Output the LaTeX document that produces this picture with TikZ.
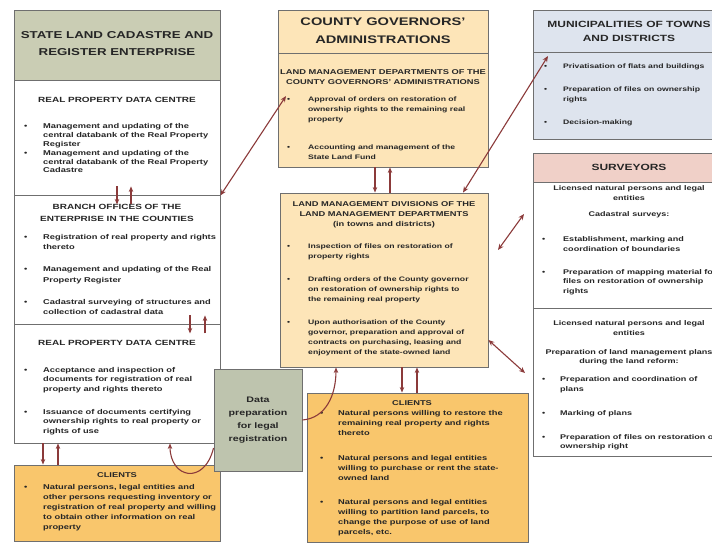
\documentclass[tikz,border=0pt]{standalone}
\usepackage{fontspec}
\setmainfont{Liberation Sans}[FakeStretch=1.33]
\usetikzlibrary{fit,arrows.meta}
\definecolor{bordc}{HTML}{6F6F6F}
\definecolor{arrc}{HTML}{8B3A3A}
\definecolor{tgreen}{HTML}{CACDB4}
\definecolor{dpgreen}{HTML}{BEC4AE}
\definecolor{peach}{HTML}{FDE5B8}
\definecolor{orng}{HTML}{F9C66C}
\definecolor{mblue}{HTML}{DEE4EE}
\definecolor{spink}{HTML}{F0D0C8}
\definecolor{txtc}{HTML}{262626}
\newcommand\bul{\textbullet}
\newcommand\fs[2]{\fontsize{#1}{#2}\selectfont\bfseries}
\tikzset{
  box/.style={draw=bordc, line width=0.9pt, inner sep=0pt},
  txt/.style={inner sep=0pt, text=txtc, align=center},
  lst/.style={inner sep=0pt, text=txtc, anchor=north west},
  arr/.style={draw=arrc, line width=1.1pt, -{Stealth[length=5.5pt,width=4.5pt]}},
  darr/.style={draw=arrc, line width=1.1pt, {Stealth[length=6pt,width=5pt]}-{Stealth[length=6pt,width=5pt]}},
}
\begin{document}
\begin{tikzpicture}[x=1pt,y=-1pt]
\useasboundingbox (0,0) rectangle (712,544);
% ---------- left column ----------
\node[box, fill=tgreen, fit={(14,10) (220,80)}] (lt) {};
\node[box, fill=white, fit={(14,80) (220,195)}] (l1) {};
\node[box, fill=white, fit={(14,195) (220,324)}] (l2) {};
\node[box, fill=white, fit={(14,324) (220,443)}] (l3) {};
\node[box, fill=orng, fit={(14,465) (220,541)}] (lc) {};
\node[box, fill=dpgreen, fit={(214,369) (302,471)}] (dp) {};
% ---------- middle column ----------
\node[box, fill=peach, fit={(278,10) (488,53)}] (mt) {};
\node[box, fill=peach, fit={(278,53) (488,167)}] (ms) {};
\node[box, fill=peach, fit={(280,193) (488,367)}] (md) {};
\node[box, fill=orng, fit={(307,393) (528,542)}] (mc) {};
% ---------- right column ----------
\node[box, fill=mblue, fit={(533,10) (725,52)}] (rt) {};
\node[box, fill=mblue, fit={(533,52) (725,139)}] (rb) {};
\node[box, fill=spink, fit={(533,153) (725,182)}] (st) {};
\node[box, fill=white, fit={(533,182) (725,308)}] (s1) {};
\node[box, fill=white, fit={(533,308) (725,456)}] (s2) {};

% ---------- texts: left ----------
\node[txt, font=\fs{10}{17}] (ltt) at (117,43.5) {STATE LAND CADASTRE AND\\REGISTER ENTERPRISE};
\node[txt, font=\fs{7.5}{9}] (l1h) at (117,100) {REAL PROPERTY DATA CENTRE};
\node[lst, font=\fs{7}{8.8}] (l1l) at (24,122.6) {\begin{tabular}{@{}p{19pt}@{}l@{}}
\bul & Management and updating of the\\
 & central databank of the Real Property\\
 & Register\\
\bul & Management and updating of the\\
 & central databank of the Real Property\\
 & Cadastre
\end{tabular}};
\node[txt, font=\fs{7.5}{12}] (l2h) at (117,213) {BRANCH OFFICES OF THE\\ENTERPRISE IN THE COUNTIES};
\node[lst, font=\fs{7}{10.5}] (l2l) at (24,231.5) {\begin{tabular}{@{}p{19pt}@{}l@{}}
\bul & Registration of real property and rights\\
 & thereto\\[11.5pt]
\bul & Management and updating of the Real\\
 & Property Register\\[11.5pt]
\bul & Cadastral surveying of structures and\\
 & collection of cadastral data
\end{tabular}};
\node[txt, font=\fs{7.5}{9}] (l3h) at (117,343) {REAL PROPERTY DATA CENTRE};
\node[lst, font=\fs{7}{9.5}] (l3l) at (24,365.2) {\begin{tabular}{@{}p{19pt}@{}l@{}}
\bul & Acceptance and inspection of\\
 & documents for registration of real\\
 & property and rights thereto\\[13.5pt]
\bul & Issuance of documents certifying\\
 & ownership rights to real property or\\
 & rights of use
\end{tabular}};
\node[txt, font=\fs{7}{9}] (lch) at (117,475) {CLIENTS};
\node[lst, font=\fs{7}{9.8}] (lcl) at (24,482.9) {\begin{tabular}{@{}p{19pt}@{}l@{}}
\bul & Natural persons, legal entities and\\
 & other persons requesting inventory or\\
 & registration of real property and willing\\
 & to obtain other information on real\\
 & property
\end{tabular}};
\node[txt, font=\fs{8}{13}] (dpt) at (258,420) {Data\\preparation\\for legal\\registration};

% ---------- texts: middle ----------
\node[txt, font=\fs{11}{18}] (mtt) at (383,31) {COUNTY GOVERNORS'\\ADMINISTRATIONS};
\node[txt, font=\fs{7}{10}] (msh) at (383,77) {LAND MANAGEMENT DEPARTMENTS OF THE\\COUNTY GOVERNORS' ADMINISTRATIONS};
\node[lst, font=\fs{6.5}{10}] (msl) at (287,94.7) {\begin{tabular}{@{}p{21pt}@{}l@{}}
\bul & Approval of orders on restoration of\\
 & ownership rights to the remaining real\\
 & property\\[18pt]
\bul & Accounting and management of the\\
 & State Land Fund
\end{tabular}};
\node[txt, font=\fs{7}{10}] (mdh) at (384,215) {LAND MANAGEMENT DIVISIONS OF THE\\LAND MANAGEMENT DEPARTMENTS\\(in towns and districts)};
\node[lst, font=\fs{6.5}{10}] (mdl) at (287,241.7) {\begin{tabular}{@{}p{21pt}@{}l@{}}
\bul & Inspection of files on restoration of\\
 & property rights\\[13pt]
\bul & Drafting orders of the County governor\\
 & on restoration of ownership rights to\\
 & the remaining real property\\[13pt]
\bul & Upon authorisation of the County\\
 & governor, preparation and approval of\\
 & contracts on purchasing, leasing and\\
 & enjoyment of the state-owned land
\end{tabular}};
\node[txt, font=\fs{7}{9}] (mch) at (412,403) {CLIENTS};
\node[lst, font=\fs{7}{10}] (mcl) at (320,407.8) {\begin{tabular}{@{}p{18pt}@{}l@{}}
\bul & Natural persons willing to restore the\\
 & remaining real property and rights\\
 & thereto\\[15pt]
\bul & Natural persons and legal entities\\
 & willing to purchase or rent the state-\\
 & owned land\\[14pt]
\bul & Natural persons and legal entities\\
 & willing to partition land parcels, to\\
 & change the purpose of use of land\\
 & parcels, etc.
\end{tabular}};

% ---------- texts: right ----------
\node[txt, font=\fs{9}{14}] (rtt) at (629,31) {MUNICIPALITIES OF TOWNS\\AND DISTRICTS};
\node[lst, font=\fs{6.5}{10}] (rbl) at (544,61.7) {\begin{tabular}{@{}p{19pt}@{}l@{}}
\bul & Privatisation of flats and buildings\\[13pt]
\bul & Preparation of files on ownership\\
 & rights\\[13pt]
\bul & Decision-making
\end{tabular}};
\node[txt, font=\fs{9}{11}] (sth) at (629,167) {SURVEYORS};
\node[txt, font=\fs{6.8}{10}] (s1h) at (629,193) {Licensed natural persons and legal\\entities};
\node[txt, font=\fs{6.8}{10}] (s1c) at (629,215) {Cadastral surveys:};
\node[lst, font=\fs{6.8}{9.5}] (s1l) at (542,235) {\begin{tabular}{@{}p{21pt}@{}l@{}}
\bul & Establishment, marking and\\
 & coordination of boundaries\\[13.5pt]
\bul & Preparation of mapping material for\\
 & files on restoration of ownership\\
 & rights
\end{tabular}};
\node[txt, font=\fs{6.8}{10}] (s2h) at (629,328) {Licensed natural persons and legal\\entities};
\node[txt, font=\fs{6.8}{9.5}] (s2p) at (629,357.5) {Preparation of land management plans\\during the land reform:};
\node[lst, font=\fs{6.8}{9.5}] (s2l) at (542,375) {\begin{tabular}{@{}p{18pt}@{}l@{}}
\bul & Preparation and coordination of\\
 & plans\\[14.5pt]
\bul & Marking of plans\\[14.5pt]
\bul & Preparation of files on restoration of\\
 & ownership right
\end{tabular}};

% ---------- connectors ----------
\draw[arr] ([yshift=9pt]l1.south) -- ([yshift=-9pt]l1.south);
\draw[arr] ([xshift=14pt,yshift=-9pt]l1.south) -- ([xshift=14pt,yshift=9pt]l1.south);
\draw[arr] ([xshift=73pt,yshift=9pt]l2.south) -- ([xshift=73pt,yshift=-9pt]l2.south);
\draw[arr] ([xshift=88pt,yshift=-9pt]l2.south) -- ([xshift=88pt,yshift=9pt]l2.south);
\draw[arr] (l3.south -| 43,0) -- (lc.north -| 43,0);
\draw[arr] (lc.north -| 58,0) -- (l3.south -| 58,0);
\draw[arr] (ms.south -| 375,0) -- (md.north -| 375,0);
\draw[arr] (md.north -| 390,0) -- (ms.south -| 390,0);
\draw[arr] (md.south -| 402,0) -- (mc.north -| 402,0);
\draw[arr] (mc.north -| 417,0) -- (md.south -| 417,0);

\coordinate (a1) at (286,96);
\draw[darr] (l1.south east) -- (a1);
\coordinate (a2) at (548,56);
\draw[darr] (md.north -| 463,0) -- (a2);
\coordinate (a3) at (498,250);
\coordinate (a4) at (524,214);
\draw[darr] (a3) -- (a4);
\coordinate (a6) at (525,373);
\draw[darr] (md.east |- 0,340) -- (a6);

\draw[arr] (dp.west |- 0,448) .. controls (204,486) and (170,478) .. (l3.south -| 170,0);
\draw[arr] (dp.east |- 0,420) .. controls (326,418) and (336,395) .. (md.south -| 336,0);
\end{tikzpicture}
\end{document}
